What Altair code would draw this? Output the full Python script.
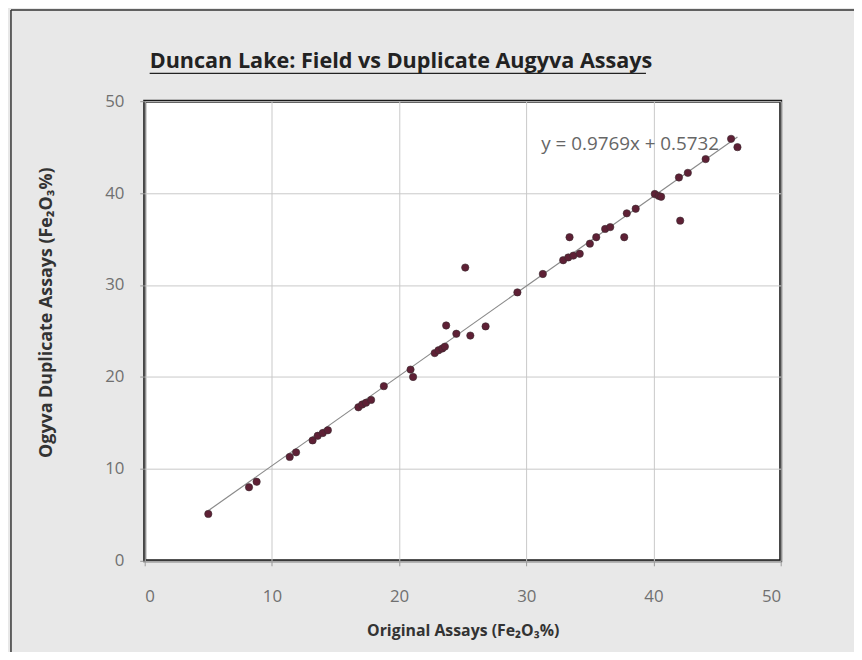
import altair as alt
import pandas as pd

# Data
original = [5.0, 8.2, 8.8, 11.4, 11.9, 13.2, 13.6, 14.0, 14.4, 16.8, 17.1, 17.4, 17.8,
            18.8, 20.9, 21.1, 22.8, 23.1, 23.4, 23.6, 23.7, 24.5, 25.6, 25.2, 26.8,
            29.3, 31.3, 32.9, 33.3, 33.7, 34.2, 33.4, 35.0, 35.5, 36.2, 36.6, 37.7,
            37.9, 38.6, 40.1, 40.4, 40.6, 42.1, 42.0, 42.7, 44.1, 46.1, 46.6]
duplicate = [5.1, 8.0, 8.6, 11.3, 11.8, 13.1, 13.6, 13.9, 14.2, 16.7, 17.0, 17.2, 17.5,
             19.0, 20.8, 20.0, 22.6, 22.9, 23.1, 23.3, 25.6, 24.7, 24.5, 31.9, 25.5,
             29.2, 31.2, 32.7, 33.0, 33.2, 33.4, 35.2, 34.5, 35.2, 36.1, 36.3, 35.2,
             37.8, 38.3, 39.9, 39.7, 39.6, 37.0, 41.7, 42.2, 43.7, 45.9, 45.0]
slope = 0.9769
intercept = 0.5732
axis_ticks = [0, 10, 20, 30, 40, 50]

title_text = "Duncan Lake: Field vs Duplicate Augyva Assays"
x_title = "Original Assays (Fe₂O₃%)"
y_title = "Ogyva Duplicate Assays  (Fe₂O₃%)"
eq_text = f"y = {slope}x + {intercept}"

df = pd.DataFrame({"original": original, "duplicate": duplicate})
trend = pd.DataFrame({"original": [min(original), max(original)]})

W, H = 642, 464
FONT = "Open Sans"

xscale = alt.Scale(domain=[0, 50], nice=False, zero=True)
yscale = alt.Scale(domain=[0, 50], nice=False, zero=True)

x_axis = alt.Axis(values=axis_ticks, title=x_title, grid=True, domain=False,
                  tickSize=5, tickColor="#999999", labelPadding=23,
                  titleY=70, titleBaseline="middle", titleFontSize=16)
y_axis = alt.Axis(values=axis_ticks, title=y_title, grid=True, domain=False,
                  tickSize=5, tickColor="#999999", labelPadding=16,
                  titleX=-99, titleY=213, titleAngle=270, titleBaseline="middle",
                  titleFontSize=18)

points = alt.Chart(df).mark_circle(size=55, color="#5e2035", opacity=1,
                                   stroke="#3a2a30", strokeWidth=0.6).encode(
    x=alt.X("original:Q", scale=xscale, axis=x_axis),
    y=alt.Y("duplicate:Q", scale=yscale, axis=y_axis),
)

line = alt.Chart(trend).mark_line(color="#8a8a8a", strokeWidth=1.2).transform_calculate(
    duplicate=f"{slope} * datum.original + {intercept}"
).encode(
    x=alt.X("original:Q", scale=xscale),
    y=alt.Y("duplicate:Q", scale=yscale),
)

equation = alt.Chart(pd.DataFrame({"t": [eq_text]})).mark_text(
    font=FONT, fontSize=19, color="#666666", align="center", baseline="middle"
).encode(text="t:N", x=alt.value(490), y=alt.value(43))

title = alt.Chart(pd.DataFrame({"t": [title_text]})).mark_text(
    font=FONT, fontSize=21.8, fontWeight="bold", color="#222222",
    align="left", baseline="alphabetic"
).encode(text="t:N", x=alt.value(5), y=alt.value(-33))

underline = alt.Chart(pd.DataFrame({"a": [0]})).mark_rule(
    color="#222222", strokeWidth=1.3
).encode(x=alt.value(5), x2=alt.value(506), y=alt.value(-28))

frame_left = alt.Chart(pd.DataFrame({"a": [0]})).mark_rule(
    color="#333333", strokeWidth=1.5
).encode(x=alt.value(-135), y=alt.value(-92), y2=alt.value(560))

frame_top = alt.Chart(pd.DataFrame({"a": [0]})).mark_rule(
    color="#333333", strokeWidth=1.5
).encode(x=alt.value(-135), x2=alt.value(716), y=alt.value(-92))

chart = alt.layer(frame_left, frame_top, line, points, equation, title, underline).properties(
    width=W, height=H,
    autosize=alt.AutoSizeParams(type="none"),
    padding={"left": 138, "top": 91, "right": 74, "bottom": 89},
    background="#e8e8e8",
).configure_view(
    stroke="#1a1a1a", strokeWidth=3, fill="white"
).configure_axis(
    labelFont=FONT, labelFontSize=17, labelColor="#707070",
    titleFont=FONT, titleFontWeight="bold", titleColor="#333333",
    gridColor="#c8c8c8", gridWidth=1,
)

chart.save("out.html", embed_options={"renderer": "svg", "actions": False})
